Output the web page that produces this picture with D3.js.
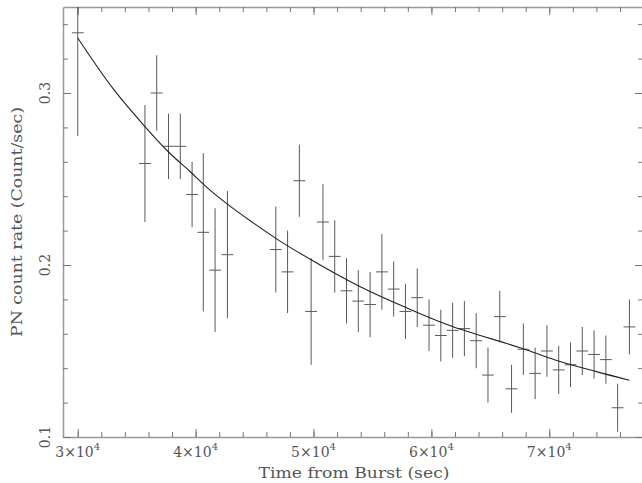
<!DOCTYPE html>
<html>
<head>
<meta charset="utf-8">
<script src="https://cdn.jsdelivr.net/npm/d3@7"></script>
<style>
  html, body { margin: 0; padding: 0; background: #fff; }
  svg { display: block; }
  text { font-family: "DejaVu Serif", "Liberation Serif", serif; fill: #555; }
</style>
</head>
<body>
<svg id="chart" width="642" height="483"></svg>
<script>
// binned light curve (time from burst in s, rate in count/s)
const times = [30000, 35700, 36700, 37700, 38700, 39700, 40650, 41650, 42700,
    46800, 47800, 48800, 49800, 50800, 51800, 52800, 53800, 54800, 55800,
    56800, 57800, 58800, 59800, 60800, 61800, 62800, 63800, 64800, 65800,
    66800, 67800, 68800, 69800, 70800, 71800, 72800, 73800, 74800, 75800, 76800];
const rates = [0.335, 0.259, 0.300, 0.269, 0.269, 0.241, 0.219, 0.197, 0.206,
    0.209, 0.196, 0.249, 0.173, 0.225, 0.205, 0.185, 0.179, 0.177, 0.196,
    0.186, 0.173, 0.181, 0.165, 0.159, 0.162, 0.163, 0.156, 0.136, 0.170,
    0.128, 0.151, 0.137, 0.150, 0.139, 0.142, 0.150, 0.148, 0.145, 0.117, 0.164];
const rateErrs = [0.060, 0.034, 0.022, 0.019, 0.019, 0.019, 0.046, 0.036, 0.037,
    0.025, 0.024, 0.021, 0.031, 0.022, 0.021, 0.019, 0.018, 0.019, 0.022,
    0.016, 0.016, 0.017, 0.015, 0.015, 0.016, 0.016, 0.016, 0.016, 0.015,
    0.014, 0.015, 0.015, 0.015, 0.014, 0.013, 0.014, 0.014, 0.014, 0.014, 0.016];
const halfBin = 500;

// model curve
const modelTimes = [30000, 33000, 35700, 37700, 39500, 41100, 42700, 44800, 46800,
    49800, 51800, 53800, 57800, 61900, 63000, 67800, 70500, 74000, 76800];
const modelRates = [0.332, 0.3025, 0.2805, 0.2657, 0.2545, 0.2443, 0.2354, 0.2249, 0.2155,
    0.203, 0.1952, 0.188, 0.1754, 0.164, 0.1615, 0.1513, 0.1448, 0.138, 0.133];

const xMajor = [30000, 40000, 50000, 60000, 70000];
const xMinor = d3.range(30000, 77000, 2000);
const yMajor = [0.1, 0.2, 0.3];
const yMinor = d3.range(0.1, 0.345, 0.02);

const plotLeft = 63, plotRight = 643, plotTop = 7, plotBottom = 437;
const svg = d3.select("#chart");

const x = d3.scaleLinear().domain([28750, 77950]).range([plotLeft, plotRight]);
const y = d3.scaleLinear().domain([0.1, 0.35]).range([plotBottom, plotTop]);

svg.append("clipPath").attr("id", "plot-clip")
    .append("rect")
    .attr("x", plotLeft).attr("y", plotTop)
    .attr("width", plotRight - plotLeft).attr("height", plotBottom - plotTop);

// ticks on all four sides, pointing in
function ticks(axis, values, size) {
    return axis.tickValues(values).tickSize(size).tickSizeOuter(0).tickFormat("");
}
const sides = [
    {axis: d3.axisBottom, scale: x, pos: `translate(0,${plotBottom})`, major: xMajor, minor: xMinor},
    {axis: d3.axisTop, scale: x, pos: `translate(0,${plotTop})`, major: xMajor, minor: xMinor},
    {axis: d3.axisLeft, scale: y, pos: `translate(${plotLeft},0)`, major: yMajor, minor: yMinor},
    {axis: d3.axisRight, scale: y, pos: `translate(${plotRight},0)`, major: yMajor, minor: yMinor}
];
sides.forEach(s => {
    const gMinor = svg.append("g").attr("transform", s.pos)
        .call(ticks(s.axis(s.scale), s.minor, -5));
    const gMajor = svg.append("g").attr("transform", s.pos)
        .call(ticks(s.axis(s.scale), s.major, -8));
    [gMinor, gMajor].forEach(g => {
        g.selectAll(".tick line").attr("stroke", "#777");
    });
    gMinor.select(".domain").attr("stroke", "#999").attr("stroke-width", 1.5);
    gMajor.select(".domain").remove();
});

// x tick labels, a×10^4
xMajor.forEach(v => {
    const t = svg.append("text")
        .attr("x", x(v))
        .attr("y", 457)
        .attr("text-anchor", "middle")
        .attr("font-size", 14);
    t.append("tspan").text(`${v / 10000}×10`);
    t.append("tspan").attr("font-size", 10).attr("dy", -7).text("4");
});

// y tick labels, rotated
yMajor.forEach(v => {
    svg.append("text")
        .attr("transform", `translate(50,${y(v)}) rotate(-90)`)
        .attr("text-anchor", "middle")
        .attr("font-size", 14)
        .text(v.toFixed(1));
});

svg.append("text")
    .attr("x", 354)
    .attr("y", 478)
    .attr("text-anchor", "middle")
    .attr("font-size", 15)
    .attr("textLength", 191)
    .attr("lengthAdjust", "spacingAndGlyphs")
    .text("Time from Burst (sec)");

svg.append("text")
    .attr("transform", "translate(22,222) rotate(-90)")
    .attr("text-anchor", "middle")
    .attr("font-size", 15)
    .attr("textLength", 230)
    .attr("lengthAdjust", "spacingAndGlyphs")
    .text("PN count rate (Count/sec)");

// data crosses
const points = times.map((t, i) => ({t: t, r: rates[i], e: rateErrs[i]}));
const plot = svg.append("g").attr("clip-path", "url(#plot-clip)");

const cross = plot.selectAll("g.pt")
    .data(points)
    .join("g")
    .attr("class", "pt")
    .attr("stroke", "#5a5a5a")
    .attr("stroke-width", 1);

cross.append("line")
    .attr("x1", d => x(d.t)).attr("x2", d => x(d.t))
    .attr("y1", d => y(d.r - d.e)).attr("y2", d => y(d.r + d.e));
cross.append("line")
    .attr("x1", d => x(d.t - halfBin)).attr("x2", d => x(d.t + halfBin))
    .attr("y1", d => y(d.r)).attr("y2", d => y(d.r));

// model curve
const line = d3.line()
    .x(d => x(d[0]))
    .y(d => y(d[1]))
    .curve(d3.curveMonotoneX);

plot.append("path")
    .datum(d3.zip(modelTimes, modelRates))
    .attr("d", line)
    .attr("fill", "none")
    .attr("stroke", "#222")
    .attr("stroke-width", 1.1);
</script>
</body>
</html>
